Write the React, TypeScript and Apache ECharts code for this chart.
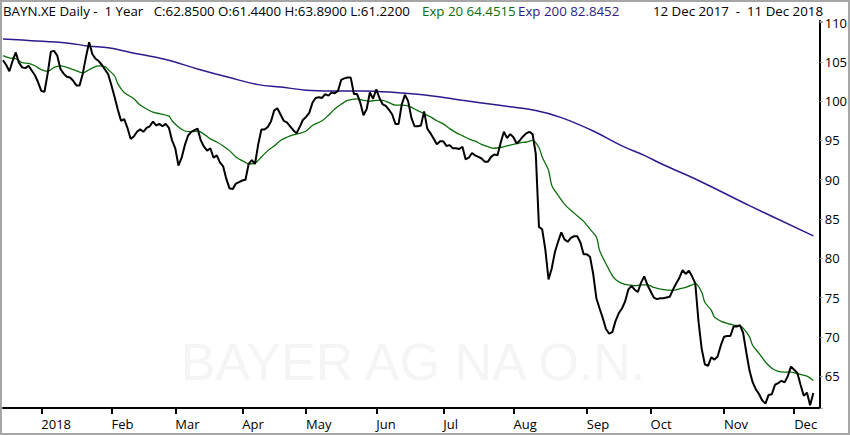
import React, { useEffect, useRef } from "react";
import * as echarts from "echarts";

// ---- data ----
const startDate = "2017-12-12";
const endDate = "2018-12-11";
const holidays = ["2017-12-25", "2017-12-26", "2018-01-01", "2018-03-30", "2018-04-02", "2018-05-01"];
const monthLabels = ["2018", "Feb", "Mar", "Apr", "May", "Jun", "Jul", "Aug", "Sep", "Oct", "Nov", "Dec"];
const yTicks = [65, 70, 75, 80, 85, 90, 95, 100, 105, 110];

const closeValues = [
  105.2, 104.6, 103.8, 105.1, 106.2, 104.9, 104.3, 104.2, 104.5, 103.9,
  103.3, 102.4, 101.3, 101.2, 103.5, 106.3, 106.4, 105.8, 104.1, 103.5,
  103.1, 103.0, 102.6, 102.0, 102.0, 103.5, 105.6, 107.5, 106.0, 105.4,
  105.1, 104.6, 104.0, 103.4, 102.0, 100.5, 98.9, 97.5, 97.7, 96.6,
  95.2, 95.5, 96.1, 96.4, 96.1, 96.6, 96.8, 97.4, 96.9, 97.1,
  96.8, 97.1, 96.6,
  95.0, 94.0, 91.8, 92.8, 94.4, 95.6, 96.1, 96.3, 96.5, 95.0,
  94.2, 93.7, 94.0, 92.8, 93.1, 92.2, 91.7, 90.1, 88.9, 88.8,
  89.5, 89.7, 89.9, 90.0, 92.0, 92.5, 92.0, 94.5, 96.4, 96.4,
  96.7, 97.4, 98.8, 99.1, 98.3, 97.5, 97.3, 96.8, 96.3, 95.9,
  96.7, 97.6, 98.0, 98.5, 99.8, 100.4, 100.5, 100.4, 100.9, 100.7,
  101.1,
  101.0, 101.3, 102.7, 102.9, 103.0, 103.0, 100.9, 100.9, 99.8, 98.2,
  99.0, 101.1, 100.3, 101.5, 100.4, 99.6, 99.4, 98.9, 98.3, 97.1,
  97.1, 99.6, 100.8, 100.0, 97.9, 96.8, 96.8, 96.9, 98.7, 96.5,
  95.9, 95.2, 94.5, 94.9, 94.9, 94.3, 94.4, 94.0, 94.0, 93.9,
  94.2, 92.6, 92.8, 93.4, 93.1, 92.9, 92.7, 92.3, 92.3, 92.9,
  93.2,
  93.1, 94.7, 96.1, 95.3, 95.8, 95.4, 94.6, 95.0, 95.5, 95.9,
  96.1, 95.8, 93.3, 84.0, 83.7, 81.1, 77.3, 78.7, 80.8, 82.1,
  83.3, 82.4, 82.1, 82.6, 82.8, 82.8, 82.0, 80.5, 80.5, 80.2,
  78.0, 74.9, 73.6, 72.4, 71.0, 70.4, 70.6, 72.0, 73.0, 73.6,
  74.5, 76.0, 76.5, 76.0, 75.7, 76.9, 77.7, 76.6, 75.8, 75.0,
  74.8, 74.9, 74.9,
  75.0, 75.1, 76.0, 76.8, 77.5, 78.5, 78.0, 78.4, 77.7, 76.8,
  72.0, 68.5, 66.5, 66.3, 67.4, 67.1, 67.5, 68.9, 70.0, 70.1,
  70.1, 71.3, 71.3, 71.5, 70.5, 68.0, 65.7, 64.2, 63.3, 62.7,
  61.9, 61.5, 62.6, 62.7, 63.9, 64.1, 64.4, 64.2, 65.0, 66.2,
  65.8, 65.4, 63.9, 62.5, 62.9, 61.3, 62.85,
];

// [trading-day index, value]
const ema20Points = [
  [0, 105.8], [2, 105.5], [4, 105.4], [6, 104.9], [8, 104.8], [10, 104.5], [12, 104.0], [14, 103.8],
  [16, 104.3], [18, 104.5], [20, 104.3], [22, 104.0], [24, 103.7], [25, 103.6], [27, 104.0], [29, 104.4],
  [30, 104.5], [32, 104.4], [33, 104.0], [35, 103.2], [36, 102.2], [38, 101.1], [41, 100.3], [43, 99.5],
  [45, 99.0], [47, 98.6], [49, 98.4], [52, 98.1], [53, 97.5], [55, 96.7], [57, 96.2], [59, 96.1],
  [61, 96.2], [63, 95.8], [65, 95.2], [67, 94.8], [69, 94.3], [71, 93.7], [73, 92.9], [76, 92.2],
  [77, 92.0], [79, 92.1], [81, 92.9], [83, 93.7], [85, 94.3], [87, 95.0], [89, 95.4], [91, 95.7],
  [93, 95.9], [95, 96.2], [97, 96.9], [100, 97.5], [102, 98.2], [104, 99.0], [106, 99.6], [108, 100.1],
  [111, 100.3], [113, 100.1], [115, 100.0], [117, 100.1], [119, 100.1], [121, 99.8], [123, 99.5],
  [125, 99.5], [127, 99.4], [129, 99.0], [131, 98.6], [134, 98.0], [136, 97.5], [138, 97.1], [140, 96.5],
  [142, 96.0], [144, 95.6], [146, 95.2], [148, 94.9], [150, 94.5], [152, 94.2], [154, 94.0], [156, 94.1],
  [158, 94.3], [160, 94.5], [162, 94.7], [164, 94.8], [166, 95.0], [168, 94.1], [169, 92.9], [171, 91.2],
  [172, 89.3], [174, 88.0], [176, 86.9], [178, 86.1], [180, 85.4], [182, 84.7], [184, 83.7], [186, 82.7],
  [187, 81.0], [189, 79.3], [191, 77.8], [192, 77.3], [194, 76.8], [196, 76.6], [198, 76.5], [200, 76.6],
  [202, 76.6], [204, 76.3], [207, 76.0], [210, 75.9], [212, 76.1], [214, 76.3], [216, 76.6], [217, 76.8],
  [219, 75.7], [220, 74.4], [222, 73.4], [223, 72.5], [225, 72.0], [227, 71.7], [229, 71.5], [231, 71.4],
  [232, 71.1], [234, 70.0], [235, 68.9], [237, 67.9], [239, 66.8], [241, 66.0], [243, 65.6], [245, 65.5],
  [247, 65.5], [249, 65.3], [252, 65.0], [254, 64.45],
];

const ema200Points = [
  [0, 107.9], [9, 107.7], [20, 107.4], [27, 107.0], [33, 106.8], [40, 106.2], [51, 105.3], [61, 104.1],
  [71, 103.0], [80, 102.1], [87, 101.8], [95, 101.4], [103, 101.3], [113, 101.3], [123, 101.1],
  [134, 100.7], [144, 100.1], [155, 99.5], [167, 98.8], [175, 97.9], [185, 96.2], [194, 94.3],
  [201, 93.1], [207, 91.9], [218, 89.9], [234, 86.7], [254, 82.85],
];

const headerMain = "BAYN.XE Daily -  1 Year   C:62.8500 O:61.4400 H:63.8900 L:61.2200";
const headerEma20 = "Exp 20 64.4515";
const headerEma200 = "Exp 200 82.8452";
const headerRange = "12 Dec 2017  -  11 Dec 2018";
const watermark = "BAYER AG NA O.N.";

function buildTradingDays(): string[] {
  const out: string[] = [];
  const d = new Date(startDate + "T00:00:00Z");
  const end = new Date(endDate + "T00:00:00Z");
  while (d.getTime() <= end.getTime()) {
    const wd = d.getUTCDay();
    const s = d.toISOString().slice(0, 10);
    if (wd !== 0 && wd !== 6 && holidays.indexOf(s) < 0) out.push(s);
    d.setUTCDate(d.getUTCDate() + 1);
  }
  return out;
}

const FONT = "'Open Sans', 'DejaVu Sans', sans-serif";
const HEAD_SIZE = 13.3;

export default function App() {
  const ref = useRef<HTMLDivElement>(null);
  useEffect(() => {
    document.body.style.margin = "0";
    if (!ref.current) return;
    const chart = echarts.init(ref.current, null, { renderer: "svg" });
    const days = buildTradingDays();
    const categories = days.concat(["", ""]);
    const isMonthStart = (i: number) =>
      i > 0 && i < days.length && days[i].slice(5, 7) !== days[i - 1].slice(5, 7);

    const headStyle = (text: string, fill: string, align = "left") => ({
      text,
      fill,
      fontSize: HEAD_SIZE,
      fontFamily: FONT,
      fontWeight: 500,
      align,
      verticalAlign: "middle",
    });

    chart.setOption({
      animation: false,
      backgroundColor: "#fff",
      grid: { left: 3, right: 29, top: 21, bottom: 27 },
      xAxis: {
        type: "category",
        data: categories,
        boundaryGap: false,
        axisLine: { show: true, lineStyle: { color: "#000", width: 2 } },
        axisTick: {
          show: true,
          interval: (i: number) => isMonthStart(i),
          length: 6,
          lineStyle: { color: "#000", width: 2 },
        },
        axisLabel: {
          interval: (i: number) => isMonthStart(i),
          formatter: (v: string) => (v ? monthLabels[parseInt(v.slice(5, 7), 10) - 1] : ""),
          align: "left",
          margin: 9,
          color: "#000",
          fontSize: 13,
          fontWeight: 500,
          fontFamily: FONT,
        },
        splitLine: { show: false },
      },
      yAxis: {
        type: "value",
        position: "right",
        min: 60.94,
        max: 110.2,
        splitNumber: 10,
        minInterval: 5,
        maxInterval: 5,
        axisLine: { show: true, lineStyle: { color: "#000", width: 2 } },
        axisTick: { show: true, length: 3, lineStyle: { color: "#999", width: 1 } },
        axisLabel: {
          formatter: (v: number) => (yTicks.indexOf(Math.round(v * 100) / 100) >= 0 ? String(v) : ""),
          margin: 5,
          color: "#000",
          fontSize: 13,
          fontWeight: 500,
          fontFamily: FONT,
        },
        splitLine: { show: false },
      },
      graphic: [
        {
          type: "text",
          z: 0,
          x: 413,
          y: 362,
          style: {
            text: watermark,
            fill: "#f5f5f5",
            fontSize: 52,
            fontFamily: "'Liberation Sans', sans-serif",
            align: "center",
            verticalAlign: "middle",
          },
        },
        { type: "text", x: 3, y: 11, style: headStyle(headerMain, "#000") },
        { type: "text", x: 422, y: 11, style: headStyle(headerEma20, "#0b6e0b") },
        { type: "text", x: 518, y: 11, style: headStyle(headerEma200, "#2e1a8e") },
        { type: "text", x: 823, y: 11, style: headStyle(headerRange, "#000", "right") },
        {
          type: "rect",
          z: 100,
          shape: { x: 1, y: 1, width: 848, height: 433 },
          style: { fill: "none", stroke: "#a6a6a6", lineWidth: 2 },
        },
      ],
      series: [
        {
          name: "Exp 200",
          type: "line",
          data: ema200Points,
          symbol: "none",
          smooth: 0.4,
          lineStyle: { color: "#2e1a8e", width: 1.5 },
          z: 3,
        },
        {
          name: "Exp 20",
          type: "line",
          data: ema20Points,
          symbol: "none",
          smooth: 0.3,
          lineStyle: { color: "#0b6e0b", width: 1.3 },
          z: 4,
        },
        {
          name: "Close",
          type: "line",
          data: closeValues,
          symbol: "none",
          lineStyle: { color: "#000", width: 2 },
          z: 5,
        },
      ],
    });
    return () => chart.dispose();
  }, []);
  return <div ref={ref} style={{ width: 850, height: 435 }} />;
}
